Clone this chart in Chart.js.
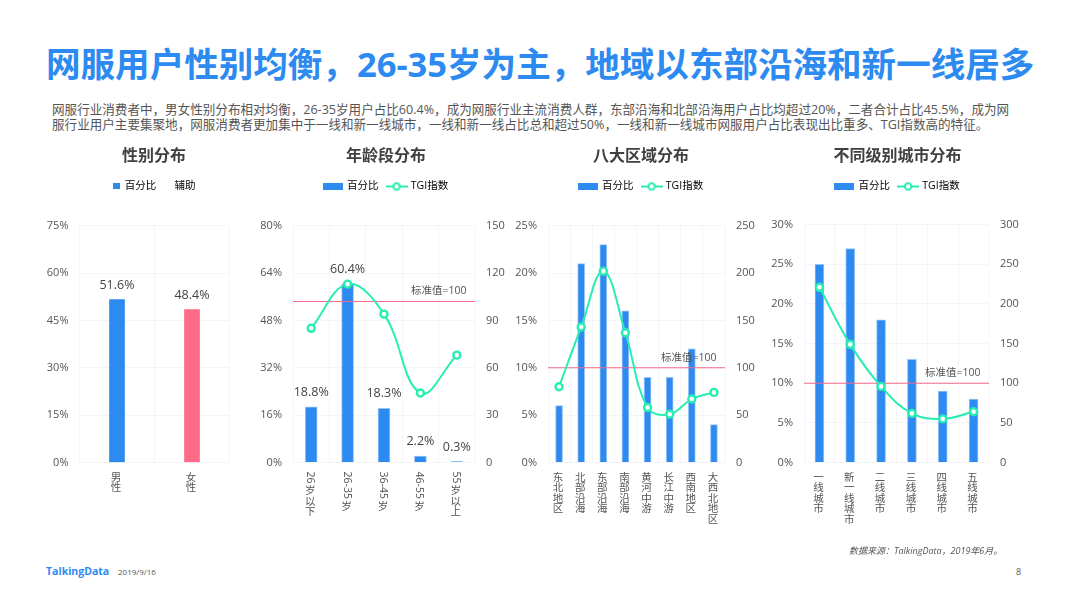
<!DOCTYPE html>
<html lang="zh"><head><meta charset="utf-8">
<script src="https://cdn.jsdelivr.net/npm/chart.js@4"></script>
<style>
html,body{margin:0;padding:0;background:#fff;width:1066px;height:599px;overflow:hidden;font-family:"Open Sans","Noto Sans CJK SC",sans-serif}
.t{position:absolute;white-space:nowrap;line-height:1}
canvas{position:absolute}
</style></head><body>
<div class="t" style="left:46px;top:47px;font-size:34.55px;font-weight:700;color:#2d8af0">网服用户性别均衡，26-35岁为主，地域以东部沿海和新一线居多</div>
<div class="t" style="left:52px;top:103.5px;font-size:12.57px;color:#555">网服行业消费者中，男女性别分布相对均衡，26-35岁用户占比60.4%，成为网服行业主流消费人群，东部沿海和北部沿海用户占比均超过20%，二者合计占比45.5%，成为网</div>
<div class="t" style="left:52px;top:118.5px;font-size:12.57px;color:#555">服行业用户主要集聚地，网服消费者更加集中于一线和新一线城市，一线和新一线占比总和超过50%，一线和新一线城市网服用户占比表现出比重多、TGI指数高的特征。</div>
<canvas id="c1" width="250" height="400" style="left:29px;top:140px"></canvas>
<canvas id="c2" width="260" height="400" style="left:256px;top:140px"></canvas>
<canvas id="c3" width="254" height="400" style="left:514px;top:140px"></canvas>
<canvas id="c4" width="255" height="400" style="left:770px;top:140px"></canvas>
<div class="t" style="left:849px;top:546px;font-size:9px;font-style:italic;color:#555">数据来源：TalkingData，2019年6月。</div>
<div class="t" style="left:46px;top:566px;font-size:10.5px;font-weight:700;color:#2d8af0">TalkingData</div>
<div class="t" style="left:118px;top:568px;font-size:8px;color:#555">2019/9/16</div>
<div class="t" style="left:1016px;top:567px;font-size:9px;color:#555">8</div>
<script>
const genderCategories=['男性','女性'];
const genderShare=[51.6,48.4];
const ageCategories=['26 岁以下','26-35 岁','36-45 岁','46-55 岁','55 岁以上'];
const ageShare=[18.8,60.4,18.3,2.2,0.3];
const ageTgi=[85,113,94,44,68];
const regionCategories=['东北地区','北部沿海','东部沿海','南部沿海','黄河中游','长江中游','西南地区','大西北地区'];
const regionShare=[6,21,23,16,9,9,12,4];
const regionTgi=[80,143,202,137,58,51,67,74];
const cityCategories=['一线城市','新一线城市','二线城市','三线城市','四线城市','五线城市'];
const cityShare=[25,27,18,13,9,8];
const cityTgi=[221,149,96,62,55,64];
const BLUE='#2d8af0',PINK='#ff6a88',GREEN='#26eeb0',RED='#f4688a',TXT='#555',GRID='#f4f5f7';
const FONT='"Open Sans","Noto Sans CJK SC",sans-serif';

function swatch(w,h,color){const c=document.createElement('canvas');c.width=w;c.height=h;
  const x=c.getContext('2d');if(color){x.fillStyle=color;x.fillRect(0,0,w,h);}return c;}
function lineSwatch(){const c=document.createElement('canvas');c.width=22;c.height=10;const x=c.getContext('2d');
  x.strokeStyle=GREEN;x.lineWidth=2;x.beginPath();x.moveTo(0,5);x.lineTo(22,5);x.stroke();
  x.fillStyle='#fff';x.beginPath();x.arc(11,5,3.2,0,7);x.fill();x.stroke();return c;}

const overlay={id:'overlay',
  beforeLayout(chart,args,opts){
    const l=chart.legend;
    if(l&&!l._gapPatched){const f=l.fit;l.fit=function(){f.call(this);this.height+=opts.gap;};l._gapPatched=true;}
  },
  beforeDatasetDraw(chart,args,opts){
    if(!opts.ref||args.index!==1)return;
    const {ctx,chartArea:a}=chart,y=chart.scales.y1.getPixelForValue(opts.ref.value);
    ctx.save();ctx.strokeStyle=RED;ctx.lineWidth=1;ctx.beginPath();ctx.moveTo(a.left,y);ctx.lineTo(a.right,y);ctx.stroke();
    ctx.fillStyle=TXT;ctx.font='10.5px '+FONT;ctx.textAlign='right';ctx.textBaseline='middle';
    ctx.fillText(opts.ref.text,a.right-8.5,y-10);ctx.restore();
  },
  afterDatasetsDraw(chart,args,opts){
    const {ctx}=chart;
    if(opts.values){
      const m=chart.getDatasetMeta(0);ctx.save();ctx.fillStyle='#444';ctx.font='12.5px '+FONT;ctx.textAlign='center';ctx.textBaseline='middle';
      m.data.forEach((b,i)=>ctx.fillText(opts.values[i].toFixed(1)+'%',b.x,b.y-14.5));ctx.restore();
    }
    if(opts.vertical){
      const s=chart.scales.x;ctx.save();ctx.fillStyle=TXT;ctx.font='10.5px '+FONT;
      opts.vertical.forEach((label,i)=>{
        const x=s.getPixelForTick(i)-1;let y=s.top+9;
        (label.match(/[\x00-\x7f]+|[^\x00-\x7f]/g)||[]).forEach(run=>{
          if(/^[\x00-\x7f]/.test(run)){
            const w=ctx.measureText(run).width;
            ctx.save();ctx.translate(x,y);ctx.rotate(Math.PI/2);ctx.textAlign='left';ctx.textBaseline='middle';ctx.fillText(run,0,0);ctx.restore();
            y+=w;
          }else{
            ctx.textAlign='center';ctx.textBaseline='top';ctx.fillText(run,x,y);y+=10.3;
          }
        });
      });ctx.restore();
    }
  }};

function panel(o){
  const w=o.width,yw=o.plotLeft,y1w=w-o.plotRight;
  const scales={
    x:{offset:true,grid:{color:GRID,drawTicks:false,offset:true},border:{color:GRID},
       afterFit(s){s.height=400-322.5;},
       ticks:{display:!o.verticalTicks,color:TXT,font:{size:10.5,family:FONT,lineHeight:1},maxRotation:0,minRotation:0,autoSkip:false,padding:10,labelOffset:-1,
              callback(v){return [...this.getLabelForValue(v)];}}},
    y:{min:0,max:o.max,position:'left',grid:{color:GRID,drawTicks:false},border:{color:GRID},
       afterFit(s){s.width=yw;},
       ticks:{stepSize:o.step,color:TXT,font:{size:11,family:FONT},padding:11,callback:v=>v+'%'}},
    y1:{min:0,max:o.max1||1,position:'right',display:true,grid:{display:false,drawTicks:false},border:{display:false},
       afterFit(s){s.width=y1w;},
       ticks:o.max1?{stepSize:o.step1,color:TXT,font:{size:11,family:FONT},padding:11}:{display:false}}
  };
  const datasets=[{type:'bar',label:'百分比',data:o.share,yAxisID:'y',backgroundColor:o.colors||BLUE,
      borderColor:o.colors?'transparent':'rgba(140,190,250,.9)',borderWidth:o.colors?0:1,barThickness:o.bar,grouped:false,order:2}];
  if(o.tgi)datasets.push({type:'line',label:'TGI指数',data:o.tgi,yAxisID:'y1',borderColor:GREEN,borderWidth:2,tension:.4,
      pointRadius:3.5,pointBorderWidth:2.4,pointBackgroundColor:'#fff',pointBorderColor:GREEN,order:1});
  else datasets.push({type:'bar',label:'辅助',data:o.categories.map(()=>null),yAxisID:'y',backgroundColor:'transparent',grouped:false,order:3});
  new Chart(document.getElementById(o.id),{
    data:{labels:o.categories,datasets},
    plugins:[overlay],
    options:{responsive:false,animation:false,
      layout:{padding:{top:0,left:0,right:0,bottom:0}},
      plugins:{
        title:{display:true,text:o.title,color:'#404040',font:{size:16,weight:'bold',family:FONT,lineHeight:1.2},padding:{top:7,bottom:o.tgi?6:9}},
        legend:{display:true,position:'top',labels:{color:TXT,font:{size:10.5,family:FONT},usePointStyle:true,
          pointStyleWidth:o.tgi?18:7,boxHeight:7,padding:o.tgi?9:6,
          generateLabels(){return o.tgi?[
            {text:'百分比',pointStyle:swatch(20,7,BLUE),lineWidth:0,fillStyle:BLUE,strokeStyle:BLUE,datasetIndex:0},
            {text:'TGI指数',pointStyle:lineSwatch(),lineWidth:0,fillStyle:GREEN,strokeStyle:GREEN,datasetIndex:1}]:[
            {text:'百分比',pointStyle:swatch(7,6,BLUE),lineWidth:0,fillStyle:BLUE,strokeStyle:BLUE,datasetIndex:0},
            {text:'辅助',pointStyle:swatch(7,6,null),lineWidth:0,fillStyle:'transparent',strokeStyle:'transparent',datasetIndex:1}];}}},
        tooltip:{enabled:false},
        overlay:{gap:o.gap,ref:o.ref,values:o.labels?o.share:null,vertical:o.verticalTicks?o.categories:null}
      },
      scales}
  });
}
panel({id:'c1',width:250,plotLeft:50.5,plotRight:200.5,gap:24,title:'性别分布',categories:genderCategories,share:genderShare,max:75,step:15,bar:15,colors:[BLUE,PINK],labels:true});
panel({id:'c2',width:260,plotLeft:37,plotRight:219,gap:24,title:'年龄段分布',categories:ageCategories,share:ageShare,tgi:ageTgi,max:80,step:16,max1:150,step1:30,bar:12,labels:true,verticalTicks:true,ref:{value:102,text:'标准值=100'}});
panel({id:'c3',width:254,plotLeft:34,plotRight:211,gap:24,title:'八大区域分布',categories:regionCategories,share:regionShare,tgi:regionTgi,max:25,step:5,max1:250,step1:50,bar:7,ref:{value:100,text:'标准值=100'}});
panel({id:'c4',width:255,plotLeft:34,plotRight:219,gap:23,title:'不同级别城市分布',categories:cityCategories,share:cityShare,tgi:cityTgi,max:30,step:5,max1:300,step1:50,bar:9,ref:{value:100,text:'标准值=100'}});
</script></body></html>
